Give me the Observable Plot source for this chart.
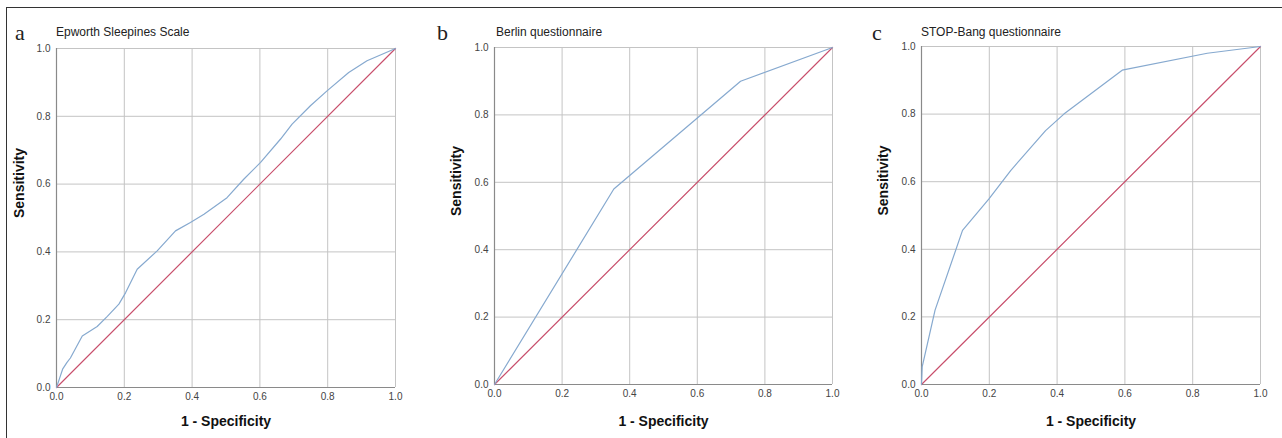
<!DOCTYPE html>
<html>
<head>
<meta charset="utf-8">
<script src="https://cdn.jsdelivr.net/npm/d3@7"></script>
<script src="https://cdn.jsdelivr.net/npm/@observablehq/plot@0.6"></script>
<style>
  body { margin: 0; background: #fff; }
  #wrap { position: relative; width: 1282px; height: 438px; overflow: hidden; background: #fff;
          font-family: "Liberation Sans", Arial, sans-serif; }
  .border { position: absolute; left: 6px; top: 7px; width: 1290px; height: 450px;
            border-left: 1px solid #333; border-top: 1px solid #333; }
  .panel { position: absolute; top: 0; }
  .letter { position: absolute; font-family: "Liberation Serif", "DejaVu Serif", serif; font-size: 22px;
            line-height: 22px; color: #222; }
  .title { position: absolute; font-size: 12px; line-height: 12px; color: #222; white-space: nowrap; }
</style>
</head>
<body>
<div id="wrap"><div class="border"></div></div>
<script>
// ---- data ----
const panelLetters = ["a", "b", "c"];
const panelTitles = ["Epworth Sleepines Scale", "Berlin questionnaire", "STOP-Bang questionnaire"];
const xLabel = "1 - Specificity";
const yLabel = "Sensitivity";
const tickValues = [0, 0.2, 0.4, 0.6, 0.8, 1.0];

// reference diagonal
const diagX = [0, 1];
const diagY = [0, 1];

// a: Epworth Sleepines Scale
const epworthX = [0, 0.01, 0.018, 0.031, 0.041, 0.076, 0.12, 0.15, 0.184, 0.204, 0.238, 0.297, 0.351, 0.395, 0.435, 0.503, 0.553, 0.602, 0.661, 0.695, 0.749, 0.798, 0.862, 0.916, 1];
const epworthY = [0, 0.03, 0.054, 0.074, 0.087, 0.152, 0.18, 0.21, 0.246, 0.28, 0.349, 0.403, 0.462, 0.487, 0.511, 0.56, 0.615, 0.664, 0.733, 0.777, 0.831, 0.875, 0.929, 0.964, 1];

// b: Berlin questionnaire
const berlinX = [0, 0.353, 0.728, 1];
const berlinY = [0, 0.58, 0.90, 1];

// c: STOP-Bang questionnaire
const stopbangX = [0, 0.002, 0.04, 0.121, 0.199, 0.263, 0.366, 0.42, 0.592, 0.843, 1];
const stopbangY = [0, 0.052, 0.22, 0.456, 0.549, 0.633, 0.751, 0.80, 0.93, 0.98, 1];

// ---- layout ----
const panels = [
  {left: 0,   width: 430, mt: 48, mr: 35, mb: 51, ml: 56, xs: epworthX,  ys: epworthY,  letterX: 15,  titleX: 56,  yLabX: 19},
  {left: 430, width: 430, mt: 47, mr: 28, mb: 54, ml: 64, xs: berlinX,   ys: berlinY,   letterX: 437, titleX: 496, yLabX: 26},
  {left: 860, width: 422, mt: 46, mr: 22, mb: 54, ml: 61, xs: stopbangX, ys: stopbangY, letterX: 872, titleX: 921, yLabX: 23}
];
const H = 438;
const wrap = document.getElementById("wrap");
const fmt = d3.format(".1f");

panels.forEach((p, i) => {
  const roc = p.xs.map((x, j) => ({x, y: p.ys[j]}));
  const diag = diagX.map((x, j) => ({x, y: diagY[j]}));
  const chart = Plot.plot({
    width: p.width,
    height: H,
    marginTop: p.mt, marginRight: p.mr, marginBottom: p.mb, marginLeft: p.ml,
    style: {fontFamily: "'Liberation Sans', Arial, sans-serif", background: "transparent", overflow: "visible"},
    x: {domain: [0, 1], ticks: tickValues},
    y: {domain: [0, 1], ticks: tickValues},
    marks: [
      Plot.gridX(tickValues, {stroke: "#c4c4c4", strokeOpacity: 1, strokeWidth: 1}),
      Plot.gridY(tickValues, {stroke: "#c4c4c4", strokeOpacity: 1, strokeWidth: 1}),
      Plot.ruleY([0], {stroke: "#8a8a8a", strokeWidth: 1.2}),
      Plot.ruleX([0], {stroke: "#8a8a8a", strokeWidth: 1.2}),
      Plot.axisX(tickValues, {tickSize: 0, tickPadding: 5, tickFormat: fmt, fontSize: 10, color: "#444", label: null}),
      Plot.axisY(tickValues, {tickSize: 0, tickPadding: 6, tickFormat: fmt, fontSize: 10, color: "#444", label: null}),
      Plot.line(diag, {x: "x", y: "y", stroke: "#c84f6c", strokeWidth: 1.2}),
      Plot.line(roc, {x: "x", y: "y", stroke: "#86a9cf", strokeWidth: 1.2}),
      Plot.text([xLabel], {frameAnchor: "bottom", dy: 425 - (H - p.mb), fontSize: 14, fontWeight: "bold", fill: "#111"}),
      Plot.text([yLabel], {frameAnchor: "left", rotate: -90, dx: -(p.ml - p.yLabX), fontSize: 14, fontWeight: "bold", fill: "#111"})
    ]
  });
  const holder = document.createElement("div");
  holder.className = "panel";
  holder.style.left = p.left + "px";
  holder.appendChild(chart);
  wrap.appendChild(holder);

  const letter = document.createElement("div");
  letter.className = "letter";
  letter.textContent = panelLetters[i];
  letter.style.left = p.letterX + "px";
  letter.style.top = "22px";
  wrap.appendChild(letter);

  const title = document.createElement("div");
  title.className = "title";
  title.textContent = panelTitles[i];
  title.style.left = p.titleX + "px";
  title.style.top = "26px";
  wrap.appendChild(title);
});
</script>
</body>
</html>
